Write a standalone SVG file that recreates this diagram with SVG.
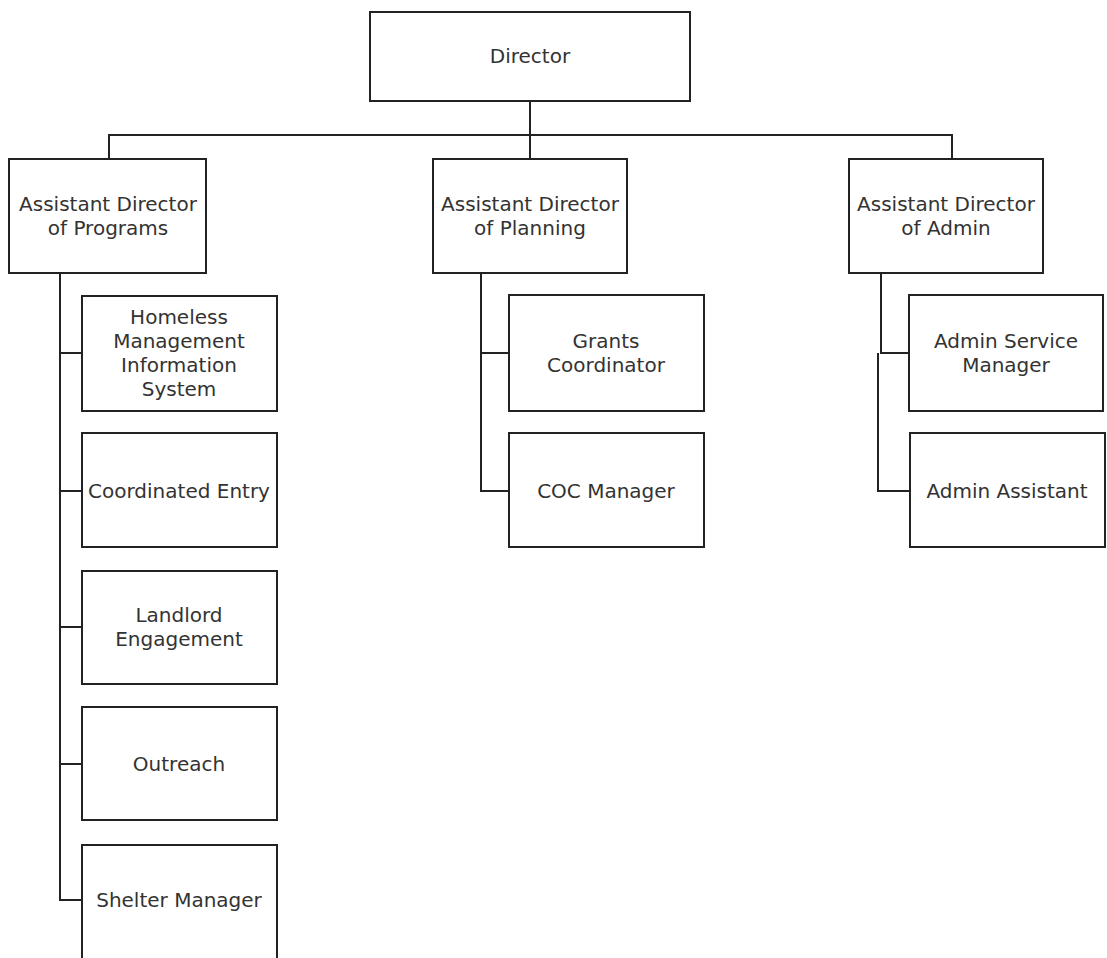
<svg xmlns="http://www.w3.org/2000/svg" width="1107" height="958" viewBox="0 0 1107 958">
<style>
.box{fill:#fff;stroke:#222;stroke-width:2}
.ln{fill:none;stroke:#222;stroke-width:2}
text{font-family:"DejaVu Sans",Verdana,sans-serif;font-size:20px;fill:#333;text-anchor:middle}
</style>
<rect width="1107" height="958" fill="#fff"/>
<g id="connectors">
<path class="ln" d="M530,101 V159"/>
<path class="ln" d="M109,159 V135 H952 V159"/>
<path class="ln" d="M60,273 V900 H82 M60,353 H82 M60,491 H82 M60,627 H82 M60,764 H82"/>
<path class="ln" d="M481,273 V491 H509 M481,353 H509"/>
<path class="ln" d="M881,273 V353 H909 M878,353 V491 H910"/>
</g>
<g id="director"><rect class="box" x="370" y="12" width="320" height="89"/><text x="530" y="63">Director</text></g>
<g id="ad-programs"><rect class="box" x="9" y="159" width="197" height="114"/><text x="108" y="211">Assistant Director</text><text x="108" y="235">of Programs</text></g>
<g id="ad-planning"><rect class="box" x="433" y="159" width="194" height="114"/><text x="530" y="211">Assistant Director</text><text x="530" y="235">of Planning</text></g>
<g id="ad-admin"><rect class="box" x="849" y="159" width="194" height="114"/><text x="946" y="211">Assistant Director</text><text x="946" y="235">of Admin</text></g>
<g id="hmis"><rect class="box" x="82" y="296" width="195" height="115"/><text x="179" y="324">Homeless</text><text x="179" y="348">Management</text><text x="179" y="372">Information</text><text x="179" y="396">System</text></g>
<g id="coordinated-entry"><rect class="box" x="82" y="433" width="195" height="114"/><text x="179" y="498">Coordinated Entry</text></g>
<g id="landlord"><rect class="box" x="82" y="571" width="195" height="113"/><text x="179" y="622">Landlord</text><text x="179" y="646">Engagement</text></g>
<g id="outreach"><rect class="box" x="82" y="707" width="195" height="113"/><text x="179" y="771">Outreach</text></g>
<g id="shelter"><rect class="box" x="82" y="845" width="195" height="114"/><text x="179" y="907">Shelter Manager</text></g>
<g id="grants"><rect class="box" x="509" y="295" width="195" height="116"/><text x="606" y="348">Grants</text><text x="606" y="372">Coordinator</text></g>
<g id="coc"><rect class="box" x="509" y="433" width="195" height="114"/><text x="606" y="498">COC Manager</text></g>
<g id="admin-service"><rect class="box" x="909" y="295" width="194" height="116"/><text x="1006" y="348">Admin Service</text><text x="1006" y="372">Manager</text></g>
<g id="admin-assistant"><rect class="box" x="910" y="433" width="195" height="114"/><text x="1007" y="498">Admin Assistant</text></g>
</svg>
